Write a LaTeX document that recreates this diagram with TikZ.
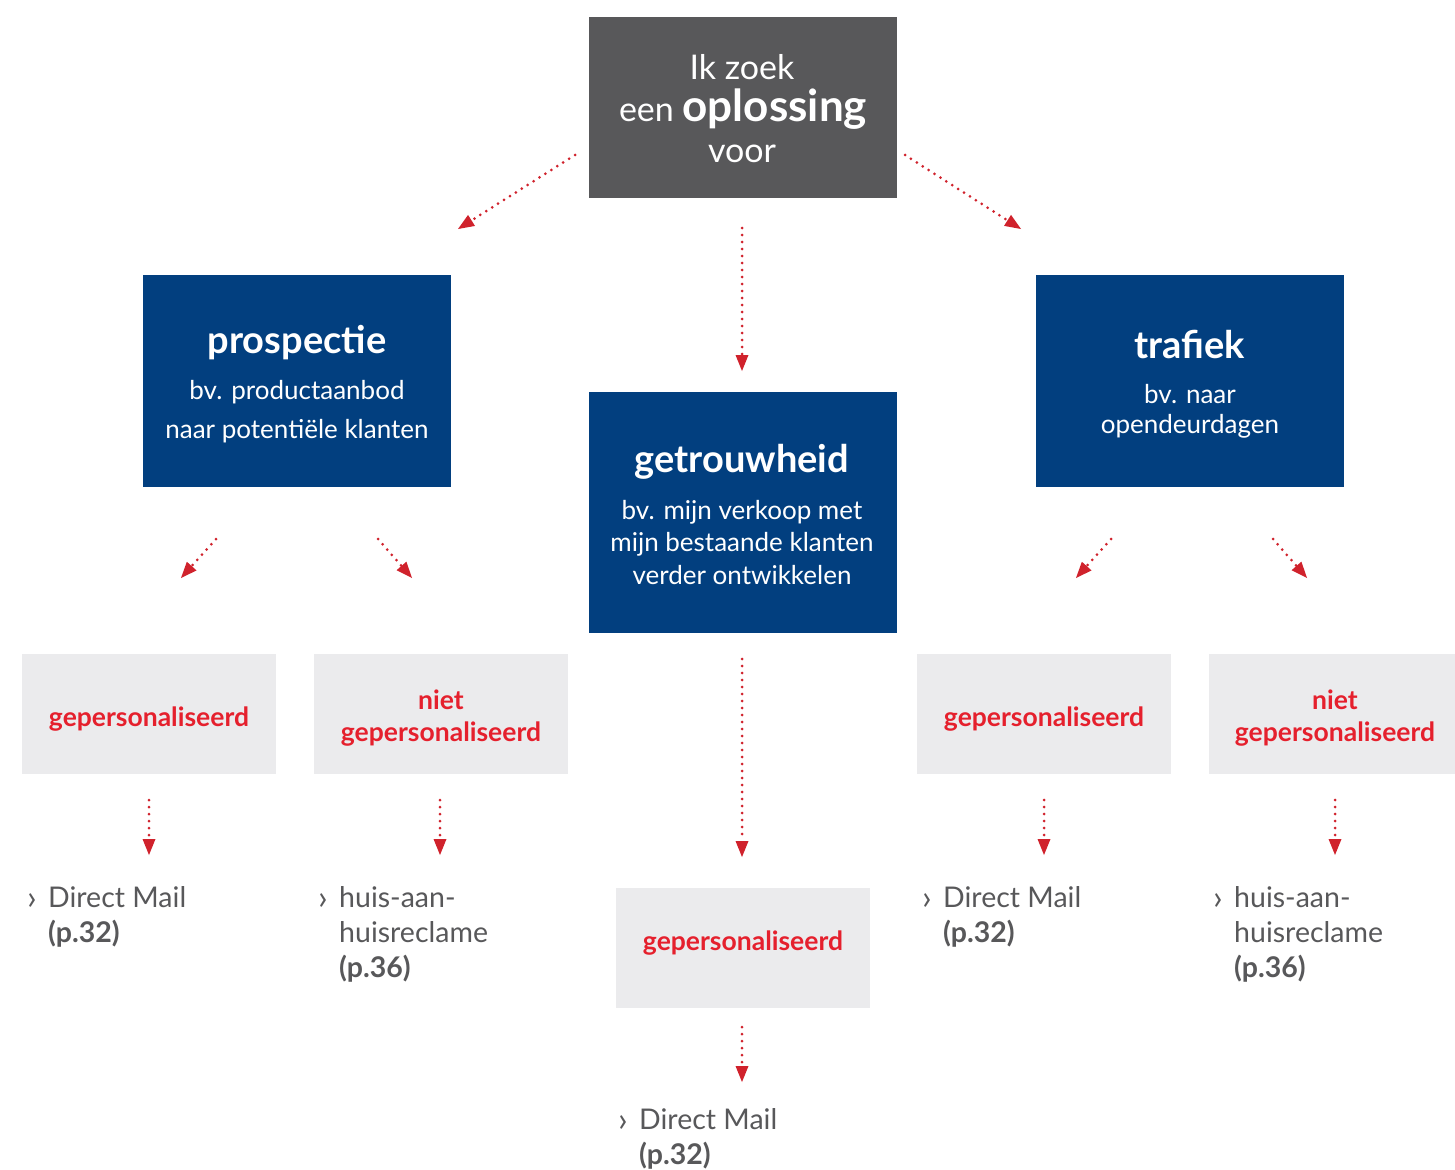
\documentclass[tikz,border=0pt]{standalone}
\usepackage{fontspec}
\setmainfont{Lato}
\usetikzlibrary{arrows.meta}
\definecolor{topgray}{HTML}{58585A}
\definecolor{boxblue}{HTML}{023F7F}
\definecolor{lightbox}{HTML}{EBEBED}
\definecolor{redtxt}{HTML}{E5202D}
\definecolor{arrred}{HTML}{D0222C}
\definecolor{txtgray}{HTML}{58585A}
\newcommand{\chev}{\makebox[21pt][l]{\fontsize{34}{35}\selectfont\raisebox{-2.5pt}{›}}}
\tikzset{
  x=1pt,y=-1pt,
  bluebox/.style={fill=boxblue,minimum width=308pt,inner sep=0pt,anchor=north west},
  greybox/.style={fill=lightbox,minimum width=254pt,minimum height=120pt,inner sep=0pt,anchor=north west},
  greytxt/.style={text=redtxt,align=center,font=\fontsize{26.5}{32}\selectfont\bfseries},
  dotarrow/.style={arrred,line width=3pt,line cap=round,dash pattern=on 0pt off 7pt,
     -{Triangle[length=16pt,width=13pt,line width=0pt,fill=arrred]}},
  reftxt/.style={text=txtgray,align=left,anchor=north west,inner sep=0pt,font=\fontsize{28.5}{35}\selectfont},
  titlef/.style={text=white,font=\fontsize{38}{40}\selectfont\bfseries},
  subf/.style={text=white,font=\fontsize{26}{32}\selectfont},
  topf/.style={text=white,font=\fontsize{34}{40}\selectfont}
}
\begin{document}
\begin{tikzpicture}
\useasboundingbox (0,0) rectangle (1455,1169);
\fill[white] (0,0) rectangle (1455,1169);
% top
\node[fill=topgray,minimum width=308pt,minimum height=181pt,inner sep=0pt,anchor=north west] (top) at (589,17) {};
\node[topf] (t1) at (742,67) {Ik zoek};
\node[topf] (t2) at (743,109) {een \fontsize{44}{40}\selectfont\bfseries oplossing};
\node[topf] (t3) at (742,154) {voor};
% blue boxes
\node[bluebox,minimum height=212pt] (pros) at (143,275) {};
\node[titlef] (prost) at (297,343) {prospectie};
\node[subf] (pros1) at (297,392) {bv. productaanbod};
\node[subf] (pros2) at (297,431) {naar potentiële klanten};
\node[bluebox,minimum height=241pt] (getr) at (589,392) {};
\node[titlef] (getrt) at (742,462) {getrouwheid};
\node[subf] (getr1) at (742,512) {bv. mijn verkoop met};
\node[subf] (getr2) at (742,544) {mijn bestaande klanten};
\node[subf] (getr3) at (742,575) {verder ontwikkelen};
\node[bluebox,minimum height=212pt] (traf) at (1036,275) {};
\node[titlef] (traft) at (1190,344) {trafiek};
\node[subf] (traf1) at (1190,394) {bv. naar};
\node[subf] (traf2) at (1190,426) {opendeurdagen};
% grey boxes
\node[greybox] (g1) at (22,654) {};
\node[greytxt] (g1t) at (149,719) {gepersonaliseerd};
\node[greybox] (g2) at (314,654) {};
\node[greytxt] (g2t) at (441,718) {niet\\gepersonaliseerd};
\node[greybox] (g3) at (917,654) {};
\node[greytxt] (g3t) at (1044,719) {gepersonaliseerd};
\node[greybox,minimum width=246pt] (g4) at (1209,654) {};
\node[greytxt] (g4t) at (1335,718) {niet\\gepersonaliseerd};
\node[greybox] (g5) at (616,888) {};
\node[greytxt] (g5t) at (743,943) {gepersonaliseerd};
% reference texts
\node[reftxt] (r1) at (27,886) {\chev Direct Mail\\\hspace*{21pt}\textbf{(p.32)}};
\node[reftxt] (r2) at (318,886) {\chev huis-aan-\\\hspace*{21pt}huisreclame\\\hspace*{21pt}\textbf{(p.36)}};
\node[reftxt] (r3) at (922,886) {\chev Direct Mail\\\hspace*{21pt}\textbf{(p.32)}};
\node[reftxt] (r4) at (1213,886) {\chev huis-aan-\\\hspace*{21pt}huisreclame\\\hspace*{21pt}\textbf{(p.36)}};
\node[reftxt] (r5) at (618,1108) {\chev Direct Mail\\\hspace*{21pt}\textbf{(p.32)}};
% arrow endpoints
\coordinate (a1s) at (575,155); \coordinate (a1e) at (458,229);
\coordinate (a2s) at (905,155); \coordinate (a2e) at (1021,229);
\coordinate (a3s) at (742,228); \coordinate (a3e) at (742,371);
\coordinate (b1s) at (216,539); \coordinate (b1e) at (181,578);
\coordinate (b2s) at (378,539); \coordinate (b2e) at (412,578);
\coordinate (b3s) at (1111,539); \coordinate (b3e) at (1076,578);
\coordinate (b4s) at (1273,539); \coordinate (b4e) at (1307,578);
\coordinate (c1s) at (149,800); \coordinate (c1e) at (149,855);
\coordinate (c2s) at (440,800); \coordinate (c2e) at (440,855);
\coordinate (c3s) at (1044,800); \coordinate (c3e) at (1044,855);
\coordinate (c4s) at (1335,800); \coordinate (c4e) at (1335,855);
\coordinate (c5s) at (742,659); \coordinate (c5e) at (742,857);
\coordinate (c6s) at (742,1027); \coordinate (c6e) at (742,1082);
\foreach \s/\e in {a1s/a1e,a2s/a2e,a3s/a3e,b1s/b1e,b2s/b2e,b3s/b3e,b4s/b4e,c1s/c1e,c2s/c2e,c3s/c3e,c4s/c4e,c5s/c5e,c6s/c6e}
  \draw[dotarrow] (\s) -- (\e);
\end{tikzpicture}
\end{document}
